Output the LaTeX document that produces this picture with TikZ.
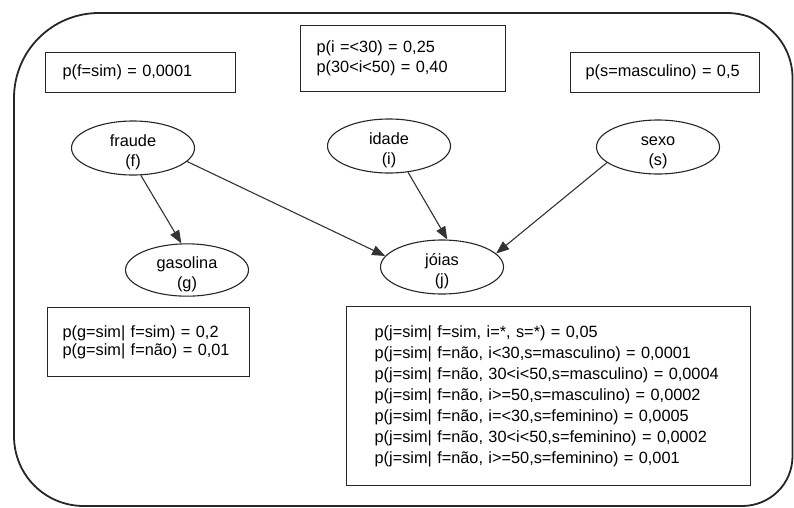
\documentclass[tikz,border=0pt]{standalone}
\usepackage{fontspec}
\setmainfont{Liberation Sans}
\usetikzlibrary{shapes.geometric,arrows.meta}

\tikzset{
  var/.style={draw=black!85, line width=1.1pt, ellipse, inner sep=0pt,
    minimum width=123pt, minimum height=54pt, align=center,
    text height=37pt, text depth=-1pt,
    font=\fontsize{16.3}{20}\selectfont},
  cpt/.style={draw=black!85, line width=1.3pt, anchor=north west, align=left,
    inner ysep=0pt, font=\fontsize{16.3}{20}\selectfont},
  link/.style={draw=black!80, line width=1.1pt,
    -{Triangle[length=13pt,width=10pt]}},
  frame/.style={draw=black!85, line width=1.8pt}
}

\begin{document}
\begin{tikzpicture}[x=1pt,y=-1pt]
\useasboundingbox (0,0) rectangle (794,507);

% outer frame with rounded corners of different radii
\draw[frame] (14,98) .. controls (14,51) and (52,13) .. (99,13)
  -- (727,13) .. controls (763,13) and (792.5,42) .. (792.5,78)
  -- (792.5,456) .. controls (792.5,484) and (770,506) .. (742,506)
  -- (84,506) .. controls (45,506) and (14,475) .. (14,436) -- cycle;

% probability tables
\node[cpt, minimum height=40pt, inner xsep=17pt, text width=156pt] (pf) at (45,52)
  {p(f=sim) = 0,0001};
\node[cpt, minimum height=66pt, inner xsep=16pt, text width=173pt] (pi) at (300,25)
  {p(i =<30) = 0,25\\p(30<i<50) = 0,40};
\node[cpt, minimum height=40pt, inner xsep=15pt, text width=159pt] (ps) at (570,52)
  {p(s=masculino) = 0,5};
\node[cpt, minimum height=69pt, inner xsep=15pt, text width=172pt,
  font=\fontsize{16.3}{18}\selectfont] (pg) at (47,307)
  {p(g=sim| f=sim) = 0,2\\p(g=sim| f=não) = 0,01};
\node[cpt, minimum height=179pt, inner xsep=28pt, text width=348pt,
  font=\fontsize{16.3}{21}\selectfont] (pj) at (346,306)
  {p(j=sim| f=sim, i=*, s=*) = 0,05\\
   p(j=sim| f=não, i<30,s=masculino) = 0,0001\\
   p(j=sim| f=não, 30<i<50,s=masculino) = 0,0004\\
   p(j=sim| f=não, i>=50,s=masculino) = 0,0002\\
   p(j=sim| f=não, i=<30,s=feminino) = 0,0005\\
   p(j=sim| f=não, 30<i<50,s=feminino) = 0,0002\\
   p(j=sim| f=não, i>=50,s=feminino) = 0,001};

% variables
\node[var] (fraude) at (133,148) {fraude\\(f)};
\node[var] (idade) at (389,146) {idade\\(i)};
\node[var] (sexo) at (658,147) {sexo\\(s)};
\node[var, minimum height=51pt] (gasolina) at (187,270) {gasolina\\(g)};
\node[var] (joias) at (442,267) {jóias\\(j)};

% dependencies
\draw[link] (fraude.-74) -- (gasolina.102);
\draw[link] (fraude.-14) -- (joias.169);
\draw[link] (idade.-54) -- (joias.79);
\draw[link] (sexo.-163) -- (joias.14);
\end{tikzpicture}
\end{document}
